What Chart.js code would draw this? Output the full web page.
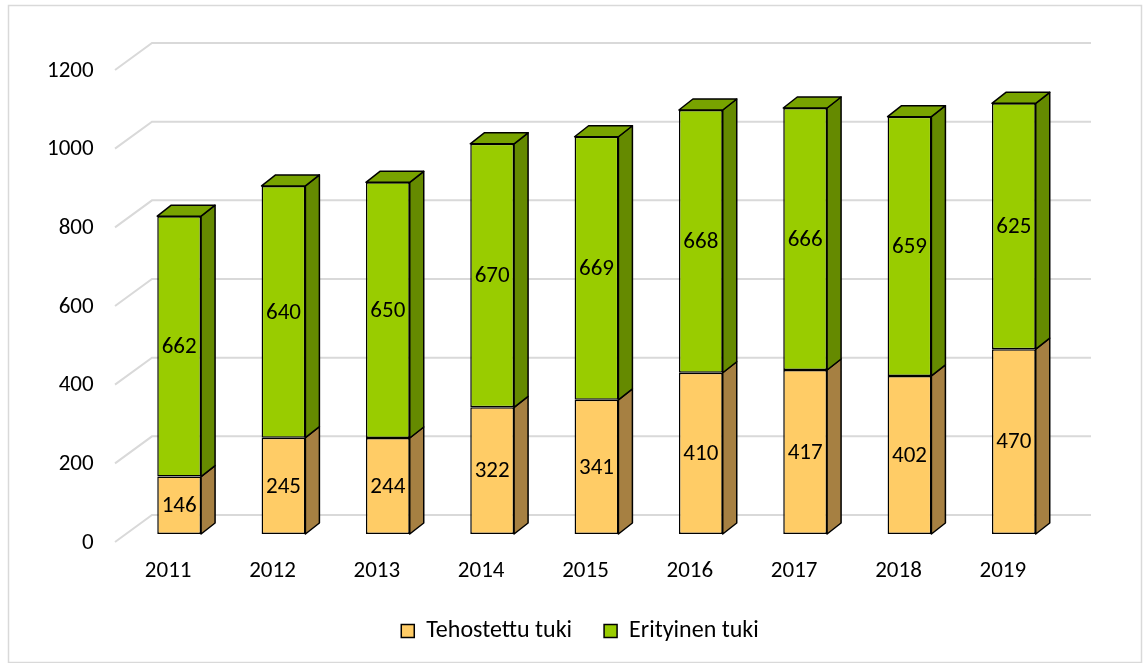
<!DOCTYPE html>
<html>
  <head>
    <title>Tehostettu ja erityinen tuki</title>
    <style>
      body { margin: 0; background: #fff; }
    </style>
  </head>
  <script src="https://cdn.jsdelivr.net/npm/chart.js@4/dist/chart.umd.min.js"></script>
  <body>
    <canvas id="myChart" width="1143" height="663"></canvas>

    <script>
      const years = ["2011", "2012", "2013", "2014", "2015", "2016", "2017", "2018", "2019"]
      const tehostettu = [146, 245, 244, 322, 341, 410, 417, 402, 470]
      const erityinen = [662, 640, 650, 670, 669, 668, 666, 659, 625]
      const yTicks = [0, 200, 400, 600, 800, 1000, 1200]

      const FONT = "Carlito, Lato, sans-serif"
      const FS = 23
      // side + top colours for the fake 3d look
      const sideColors = ["#a68042", "#658a00"]
      const topColors = ["#c9a050", "#78a300"]
      const DX = 14, DY = 11

      // frame round the whole chart
      const framePlugin = {
        id: "frame",
        beforeDraw(chart) {
          const ctx = chart.ctx
          ctx.save()
          ctx.strokeStyle = "#d9d9d9"
          ctx.lineWidth = 1.5
          ctx.strokeRect(8.5, 5.5, 1133, 657)
          ctx.restore()
        }
      }

      // gridlines drawn on a back wall with a floor edge going to the front
      const wallPlugin = {
        id: "wall",
        beforeDatasetsDraw(chart) {
          const ctx = chart.ctx
          const y = chart.scales.y
          const area = chart.chartArea
          ctx.save()
          ctx.strokeStyle = "#d9d9d9"
          ctx.lineWidth = 2
          yTicks.forEach(v => {
            const yb = y.getPixelForValue(v) - 19
            ctx.beginPath()
            ctx.moveTo(area.left - 12, yb + 27)
            ctx.lineTo(area.left + 25, yb)
            ctx.lineTo(area.right + 25, yb)
            ctx.stroke()
          })
          ctx.restore()
        }
      }

      const box3dPlugin = {
        id: "box3d",
        afterDatasetsDraw(chart) {
          const ctx = chart.ctx
          const last = chart.data.datasets.length - 1
          ctx.save()
          ctx.strokeStyle = "#000"
          ctx.lineWidth = 1.5
          ctx.lineJoin = "round"
          chart.data.datasets.forEach((ds, di) => {
            chart.getDatasetMeta(di).data.forEach(bar => {
              const xl = bar.x - bar.width / 2
              const xr = bar.x + bar.width / 2
              const top = bar.y
              const base = bar.base
              // right side
              ctx.beginPath()
              ctx.moveTo(xr, top)
              ctx.lineTo(xr + DX, top - DY)
              ctx.lineTo(xr + DX, base - DY)
              ctx.lineTo(xr, base)
              ctx.closePath()
              ctx.fillStyle = sideColors[di]
              ctx.fill()
              ctx.stroke()
              if (di === last) {
                ctx.beginPath()
                ctx.moveTo(xl, top)
                ctx.lineTo(xl + DX, top - DY)
                ctx.lineTo(xr + DX, top - DY)
                ctx.lineTo(xr, top)
                ctx.closePath()
                ctx.fillStyle = topColors[di]
                ctx.fill()
                ctx.stroke()
              }
            })
          })
          // value labels
          ctx.fillStyle = "#000"
          ctx.font = FS + "px " + FONT
          ctx.textAlign = "center"
          ctx.textBaseline = "middle"
          chart.data.datasets.forEach((ds, di) => {
            chart.getDatasetMeta(di).data.forEach((bar, i) => {
              ctx.fillText(ds.data[i], bar.x, (bar.y + bar.base) / 2 + 1)
            })
          })
          ctx.restore()
        }
      }

      new Chart("myChart", {
        type: "bar",
        data: {
          labels: years,
          datasets: [
            {
              label: "Tehostettu tuki",
              data: tehostettu,
              backgroundColor: "#ffcc66",
              borderColor: "#000",
              borderWidth: 1.5,
              borderSkipped: false
            },
            {
              label: "Erityinen tuki",
              data: erityinen,
              backgroundColor: "#99cc00",
              borderColor: "#000",
              borderWidth: 1.5,
              borderSkipped: false
            }
          ]
        },
        options: {
          responsive: false,
          animation: false,
          // left padding keeps the legend centred where the original has it
          layout: { padding: { top: 62, right: 77, left: 94, bottom: 10 } },
          datasets: { bar: { barPercentage: 0.42, categoryPercentage: 1 } },
          scales: {
            x: {
              stacked: true,
              grid: { display: false, drawTicks: false },
              border: { display: false },
              ticks: { color: "#000", font: { size: FS, family: FONT }, padding: 23, labelOffset: -11, maxRotation: 0 },
              afterFit(scale) { scale.height = 53 }
            },
            y: {
              stacked: true,
              min: 0,
              max: 1200,
              grid: { display: false, drawTicks: false },
              border: { display: false },
              // mirror so the labels are not clipped to the narrow axis box
              ticks: {
                stepSize: 200, color: "#000", font: { size: FS, family: FONT },
                mirror: true, crossAlign: "far", padding: -80, labelOffset: 9,
                callback: v => String(v)
              },
              afterFit(scale) { scale.width = 33 }
            }
          },
          plugins: {
            legend: {
              position: "bottom",
              labels: { color: "#000", font: { size: 24, family: FONT }, boxWidth: 13, boxHeight: 13, padding: 32 }
            },
            tooltip: { enabled: false }
          }
        },
        plugins: [framePlugin, wallPlugin, box3dPlugin]
      })
    </script>
  </body>
</html>
